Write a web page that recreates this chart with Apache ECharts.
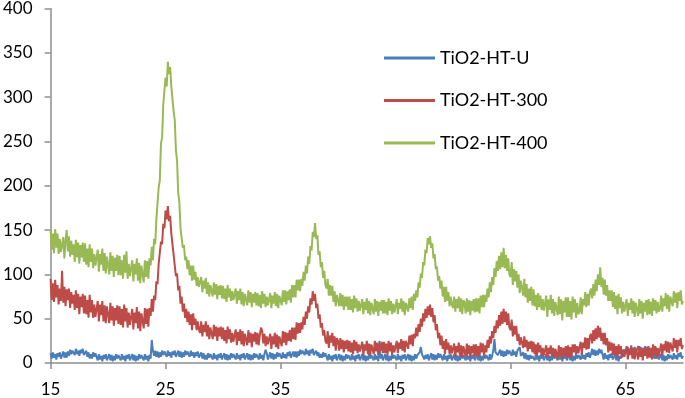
<!DOCTYPE html>
<html><head><meta charset="utf-8">
<script src="https://cdn.jsdelivr.net/npm/echarts@6/dist/echarts.min.js"></script>
<style>html,body{margin:0;padding:0;background:#fff}#c{width:685px;height:398px}</style>
</head><body><div id="c"></div>
<script>
const seriesNames = ['TiO2-HT-U', 'TiO2-HT-300', 'TiO2-HT-400'];
const twoThetaStart = 15;
const twoThetaStep = 0.1;
const xTickLabels = [15, 25, 35, 45, 55, 65];
const yMin = 0, yMax = 400, yInterval = 50;

// one row per degree of 2-theta (10 readings each), from 15 to 70
const htU = [
11,5,12,6,10,4,11,7,12,5, 7,13,6,12,6,13,8,15,10,14, 15,9,16,10,14,8,15,11,16,9, 9,14,7,12,5,10,5,12,7,11,
9,3,10,4,8,2,9,5,10,3, 4,10,3,9,2,8,3,10,5,9, 9,3,10,4,8,2,9,5,10,3, 4,10,3,9,2,8,3,10,5,9,
9,3,10,4,8,2,9,5,26,14, 8,14,7,13,6,12,7,14,9,13, 13,7,14,8,12,6,13,9,14,7, 8,14,7,13,6,12,7,14,9,13,
13,7,14,8,12,6,12,8,13,6, 6,12,5,11,4,9,4,11,6,10, 10,4,11,5,9,3,10,6,11,4, 5,11,4,10,3,9,4,11,6,10,
10,4,11,5,9,3,10,6,11,4, 5,11,4,10,3,9,4,11,6,10, 10,4,11,5,9,3,10,15,11,4, 6,12,5,11,4,10,5,12,7,11,
11,5,12,6,10,5,12,8,13,6, 7,13,7,13,6,13,8,15,10,14, 15,9,16,10,14,8,15,11,16,9, 9,14,8,12,6,10,6,12,7,11,
9,3,10,4,8,2,9,5,10,3, 4,10,3,9,2,8,3,10,5,9, 9,3,10,4,8,2,9,5,10,3, 4,10,3,9,2,8,3,10,5,9,
9,3,10,4,8,2,25,5,10,3, 4,10,3,9,2,8,3,10,5,9, 9,3,10,4,8,2,9,5,10,3, 4,10,3,9,2,8,3,10,5,9,
9,12,18,10,8,4,9,5,10,3, 5,11,4,10,3,9,4,11,6,10, 9,3,10,4,8,2,9,5,10,3, 4,10,3,9,2,8,3,10,5,9,
9,3,10,4,8,2,9,5,10,3, 4,10,3,9,2,8,3,10,5,9, 9,3,10,4,8,14,27,12,13,9, 9,15,8,14,7,13,8,15,10,14,
14,8,15,9,13,7,14,12,18,8, 6,12,5,11,4,9,3,9,5,8, 9,3,10,4,8,2,9,5,10,3, 4,10,3,9,2,8,3,10,5,9,
9,3,10,4,8,2,9,5,10,3, 4,10,3,9,2,8,3,10,5,9, 10,4,11,5,9,4,11,7,12,6, 10,16,9,15,8,14,9,16,11,15,
10,4,11,5,9,3,10,6,11,4, 4,10,3,9,2,8,5,13,12,15, 17,11,18,12,16,10,17,13,18,11, 13,19,12,18,11,17,12,19,14,18,
16,10,15,8,11,5,9,5,10,4, 4,10,3,9,2,8,3,10,5,9, 10,4,11,5,9,4,11,7,12,5,
8];

const ht300 = [
95,71,90,69,94,74,88,66,84,70, 104,68,86,64,83,71,84,62,80,67, 77,60,82,62,78,55,75,63,78,56, 76,55,71,51,77,57,71,51,66,52,
52,70,47,66,54,70,47,65,45,64, 62,45,68,48,64,42,62,48,65,44, 64,43,61,40,66,47,62,40,57,43, 43,61,38,57,45,63,39,58,36,56,
56,39,62,44,61,41,62,53,72,58, 76,71,92,89,112,111,137,134,157,152, 172,162,177,160,166,146,146,122,121,98, 101,82,87,67,75,58,67,51,61,46,
58,43,55,37,56,43,50,37,47,38, 34,47,30,43,35,47,30,43,27,40, 39,27,43,30,41,25,40,30,41,27, 40,25,37,22,41,27,38,23,34,24,
22,38,20,35,25,38,21,36,19,33, 32,20,37,23,34,18,33,24,35,21, 34,20,32,40,36,22,33,19,30,21, 19,33,16,30,21,34,18,32,16,30,
31,19,36,23,35,20,34,25,37,24, 40,27,40,26,46,33,45,34,46,38, 52,43,58,50,64,57,73,66,81,70, 78,62,67,50,55,40,45,31,37,25,
22,36,17,31,23,34,19,30,14,28, 25,14,28,16,26,12,25,16,26,13, 25,12,23,10,26,14,24,11,21,13, 12,24,9,21,14,25,10,22,9,21,
21,10,25,13,23,9,22,14,24,11, 24,11,22,9,25,13,23,10,20,12, 13,25,11,23,16,27,14,25,12,25, 26,16,31,21,32,19,33,28,40,30,
44,35,50,41,56,47,61,51,64,54, 66,52,62,46,54,37,44,28,34,20, 31,16,25,10,27,15,23,10,20,11, 10,22,7,19,12,23,8,20,7,19,
18,7,22,10,20,6,19,11,21,8, 21,8,19,7,23,12,22,9,20,12, 26,17,30,22,36,28,42,34,48,39, 54,42,58,44,61,46,58,43,56,40,
37,49,30,42,32,42,25,33,20,29, 28,17,30,18,26,13,24,16,25,12, 24,10,21,8,23,12,20,8,17,9, 9,20,6,17,10,20,8,17,6,16,
16,5,20,8,18,4,17,9,19,6, 20,7,18,6,21,12,21,10,19,11, 12,24,10,23,17,29,15,28,16,30, 33,22,37,25,39,27,42,29,40,25,
34,21,34,20,28,12,24,14,23,9, 22,9,19,6,21,10,19,6,15,7, 7,19,4,16,9,20,5,17,4,16, 15,4,19,7,17,3,16,8,18,5,
19,6,17,4,21,9,19,6,17,8, 10,22,8,21,14,25,12,24,11,23, 23,13,28,17,26,12,26,19,28,16,
20];

const ht400 = [
150,128,146,124,151,130,146,123,140,125, 124,142,118,138,150,126,143,120,138,122, 134,114,139,119,136,112,133,119,136,114, 135,111,129,108,134,114,129,107,123,110,
110,128,103,123,111,129,104,124,101,120, 119,100,125,104,121,97,119,104,122,99, 121,99,116,95,122,102,126,95,112,98, 98,116,92,112,100,118,93,113,90,110,
109,91,116,97,115,95,118,110,131,116, 140,134,162,164,198,206,248,254,292,294, 322,312,340,326,334,312,310,284,274,240, 228,192,181,152,150,130,133,116,120,106,
116,99,110,93,110,94,103,87,97,86, 84,97,80,93,84,96,78,91,75,88, 87,75,91,77,89,72,87,77,88,73, 87,72,84,69,88,74,84,70,81,71,
70,84,67,81,71,84,66,80,64,78, 77,65,82,68,80,63,78,68,80,65, 79,64,77,62,81,67,78,63,75,65, 65,79,62,76,67,80,64,78,62,76,
77,65,82,69,82,66,81,71,83,68, 88,74,88,74,94,82,94,81,95,87, 103,93,110,101,120,112,132,127,148,142, 158,140,144,122,126,108,114,96,104,88,
84,95,76,88,76,87,69,81,64,77, 76,64,79,64,77,60,75,64,75,60, 75,60,72,57,76,62,73,58,70,59, 58,72,55,69,60,73,56,70,54,68,
67,55,72,58,70,53,69,59,71,56, 71,56,69,54,73,59,70,55,67,57, 58,72,55,68,61,73,58,70,54,68, 70,58,73,62,75,60,78,70,82,74,
91,85,101,96,114,110,128,124,141,134, 143,130,135,118,123,106,109,93,98,84, 93,75,86,69,86,70,80,64,75,66, 62,75,58,72,62,75,58,73,55,71,
68,56,73,58,71,54,70,59,72,57, 73,58,73,56,76,63,77,63,77,69, 84,74,91,80,97,88,107,97,115,104, 121,106,125,108,130,107,122,104,118,100,
97,114,88,106,92,104,85,100,79,93, 92,76,95,74,89,68,84,70,86,65, 83,64,77,60,79,63,76,60,72,59, 58,76,52,72,60,77,56,72,53,69,
68,54,75,55,72,48,70,57,74,52, 74,52,70,49,75,57,72,51,68,55, 58,74,55,72,65,80,63,78,65,80, 84,73,89,76,94,81,100,88,108,86,
96,77,94,76,88,70,82,70,82,63, 80,61,76,55,78,62,74,56,69,58, 57,72,53,68,60,73,56,70,52,68, 66,53,72,56,70,50,68,58,71,54,
72,55,69,53,73,59,71,56,69,58, 61,76,58,73,64,79,61,77,58,75, 77,64,81,68,79,62,80,70,82,66,
70];

const seriesValues = [htU, ht300, ht400];
const colors = ['#4a7ebb', '#be4b48', '#98b954'];

function pairs(vals) {
  return vals.map((v, i) => [+(twoThetaStart + i * twoThetaStep).toFixed(2), v]);
}

const font = 'Lato, "Open Sans", sans-serif';
const axisColor = '#8e8e8e';
const chart = echarts.init(document.getElementById('c'), null, {renderer: 'canvas'});
chart.setOption({
  animation: false,
  backgroundColor: '#fff',
  grid: {left: 50, right: 2, top: 7, bottom: 34, containLabel: false},
  legend: {
    orient: 'vertical', left: 379, top: 44,
    itemWidth: 51, itemHeight: 3, itemGap: 24.5,
    icon: 'rect',
    textStyle: {fontFamily: font, fontSize: 18, color: '#000', lineHeight: 18},
    data: seriesNames
  },
  xAxis: {
    type: 'value', min: 15, max: 70,
    axisLine: {show: true, lineStyle: {color: axisColor, width: 1.5}},
    axisTick: {show: true, length: 6, inside: false, customValues: xTickLabels, lineStyle: {color: axisColor, width: 1.5}},
    axisLabel: {customValues: xTickLabels, margin: 18, fontFamily: font, fontSize: 17, color: '#000'},
    splitLine: {show: false}
  },
  yAxis: {
    type: 'value', min: yMin, max: yMax, interval: yInterval,
    axisLine: {show: true, lineStyle: {color: axisColor, width: 1.5}},
    axisTick: {show: true, length: 6, lineStyle: {color: axisColor, width: 1.5}},
    axisLabel: {margin: 18, fontFamily: font, fontSize: 17, color: '#000'},
    splitLine: {show: false}
  },
  series: seriesNames.map((name, k) => ({
    name, type: 'line', showSymbol: false, symbol: 'none', sampling: null,
    data: pairs(seriesValues[k]),
    lineStyle: {color: colors[k], width: 2},
    itemStyle: {color: colors[k]},
    z: 2 + k
  }))
});
</script>
</body></html>
